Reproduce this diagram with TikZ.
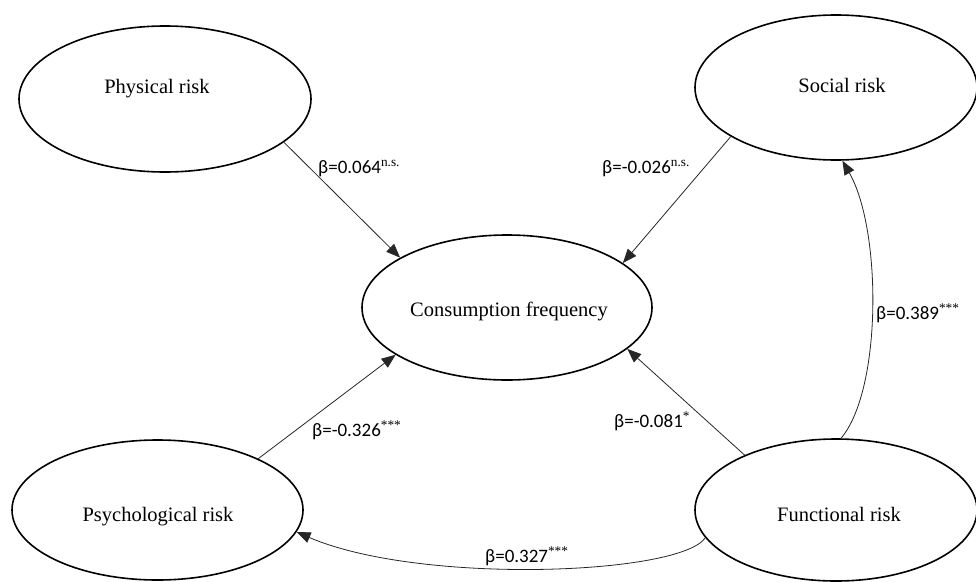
\documentclass[tikz,border=0pt]{standalone}
\usepackage{fontspec}
\setmainfont{Liberation Serif}
\newfontfamily\labfont{Carlito}
\usetikzlibrary{shapes.geometric,arrows.meta}
\tikzset{
  risk/.style={ellipse, draw=black, line width=1.6pt, inner sep=0pt},
  ntext/.style={anchor=base, inner sep=0pt, font=\fontsize{20.5}{24}\selectfont},
  coef/.style={anchor=base west, inner sep=0pt, font=\labfont\fontsize{19}{22}\selectfont},
  path/.style={draw=black!85, line width=0.8pt, -{Triangle[length=14pt,width=11pt]}}
}
\newcommand{\ns}{\textsuperscript{\rmfamily n.s.}}
\newcommand{\sig}[1]{\textsuperscript{\rmfamily #1}}
\begin{document}
\begin{tikzpicture}[x=1pt,y=-1pt]
\useasboundingbox (0,0) rectangle (976,581);
% ellipses
\node[risk, minimum width=292pt, minimum height=146pt] (phys) at (165,99) {};
\node[risk, minimum width=282pt, minimum height=145pt] (soc) at (836,87.5) {};
\node[risk, minimum width=290pt, minimum height=145pt] (cons) at (507,307.5) {};
\node[risk, minimum width=291pt, minimum height=140pt] (psy) at (157.5,510) {};
\node[risk, minimum width=282pt, minimum height=142pt] (func) at (836,510) {};
% texts
\node[ntext] (physT) at (157,93) {Physical risk};
\node[ntext] (socT) at (842,92) {Social risk};
\node[ntext] (consT) at (509,316) {Consumption frequency};
\node[ntext] (psyT) at (158,521) {Psychological risk};
\node[ntext] (funcT) at (839,521) {Functional risk};
% paths
\draw[path] (phys.-20) -- (cons.155);
\draw[path] (soc.205) -- (cons.21);
\draw[path] (psy.27) -- (cons.203.5);
\draw[path] (func.149) -- (cons.-19);
\draw[path] (func.86) .. controls (882,390) and (882,230) .. (soc.-85);
\draw[path] (func.192) .. controls (680,575) and (420,585) .. (psy.-9);
% coefficients
\node[coef] (c1) at (318,173) {β=0.064\ns};
\node[coef] (c2) at (602,173) {β=-0.026\ns};
\node[coef] (c3) at (312,436) {β=-0.326\sig{***}};
\node[coef] (c4) at (614,427) {β=-0.081\sig{*}};
\node[coef] (c5) at (876,319) {β=0.389\sig{***}};
\node[coef] (c6) at (485,562) {β=0.327\sig{***}};
\end{tikzpicture}
\end{document}
